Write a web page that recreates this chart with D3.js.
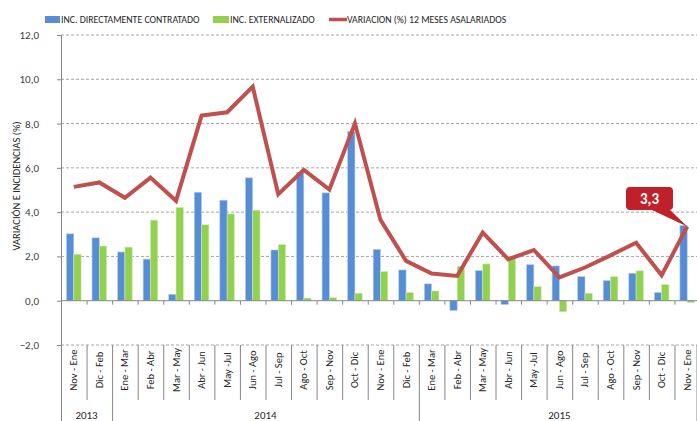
<!DOCTYPE html>
<html><head><meta charset="utf-8">
<script src="https://cdn.jsdelivr.net/npm/d3@7"></script>
<style>body{margin:0;background:#fff;overflow:hidden}</style>
</head><body>
<svg id="c" width="697" height="421"></svg>
<script>
const categories = ["Nov - Ene","Dic - Feb","Ene - Mar","Feb - Abr","Mar - May","Abr - Jun","May -Jul","Jun - Ago","Jul - Sep","Ago - Oct","Sep - Nov","Oct - Dic","Nov - Ene","Dic - Feb","Ene - Mar","Feb - Abr","Mar - May","Abr - Jun","May -Jul","Jun - Ago","Jul - Sep","Ago - Oct","Sep - Nov","Oct - Dic","Nov - Ene"];
const yearLabels = ["2013","2014","2015"];
const yearCounts = [2,12,11];
const directo = [3.02,2.84,2.2,1.88,0.29,4.9,4.54,5.55,2.29,5.8,4.87,7.64,2.32,1.39,0.76,-0.44,1.36,-0.17,1.63,1.57,1.09,0.91,1.24,0.37,3.4];
const externalizado = [2.1,2.47,2.42,3.64,4.21,3.43,3.92,4.09,2.54,0.12,0.14,0.34,1.32,0.37,0.44,1.56,1.66,2.02,0.64,-0.5,0.34,1.09,1.35,0.73,-0.08];
const variacion = [5.14,5.34,4.65,5.56,4.51,8.36,8.51,9.67,4.81,5.91,5.02,8.01,3.65,1.8,1.23,1.12,3.08,1.87,2.29,1.05,1.5,2.05,2.62,1.15,3.35];
const yTicks = [-2,0,2,4,6,8,10,12];
const seriesNames = ["INC. DIRECTAMENTE CONTRATADO","INC. EXTERNALIZADO","VARIACION (%) 12 MESES ASALARIADOS"];
const calloutLabel = "3,3";

const blue = "#558ed5", green = "#92d050", red = "#c0504d";
const font = "Carlito, 'Liberation Sans Narrow', Lato, sans-serif";
const svg = d3.select("#c");
const x = d3.scaleBand().domain(d3.range(categories.length)).range([61,700]);
const y = d3.scaleLinear().domain([-2,12]).range([345,35]);
const bw = x.bandwidth();
const barW = bw*0.286;
const fmt = v => d3.format(".1f")(v).replace(".", ",");

// gridlines
svg.append("g").selectAll("line").data(yTicks.filter(d=>d!==0)).join("line")
  .attr("x1",61).attr("x2",697).attr("y1",d=>y(d)).attr("y2",d=>y(d))
  .attr("stroke","#a6a6a6").attr("stroke-dasharray","3,2").attr("stroke-width",1);

// y axis
const yAxis = d3.axisLeft(y).tickValues(yTicks).tickSize(4).tickFormat(fmt);
const ga = svg.append("g").attr("transform","translate(61,0)").call(yAxis);
ga.select(".domain").remove();
ga.selectAll(".tick line").attr("stroke","#868686");
ga.selectAll("text").attr("font-family",font).attr("font-size",11).attr("fill","#404040").attr("x",-22).attr("text-anchor","end");
svg.append("line").attr("x1",61.5).attr("x2",61.5).attr("y1",35).attr("y2",421).attr("stroke","#868686");

// bars
const gb = svg.append("g");
gb.selectAll("rect.d").data(directo).join("rect").attr("class","d")
  .attr("x",(d,i)=>x(i)+bw/2-barW).attr("width",barW)
  .attr("y",d=>y(Math.max(0,d))).attr("height",d=>Math.abs(y(d)-y(0)))
  .attr("fill",blue).attr("stroke","#b9cdea").attr("stroke-width",0.6);
gb.selectAll("rect.e").data(externalizado).join("rect").attr("class","e")
  .attr("x",(d,i)=>x(i)+bw/2).attr("width",barW)
  .attr("y",d=>y(Math.max(0,d))).attr("height",d=>Math.abs(y(d)-y(0)))
  .attr("fill",green).attr("stroke","#d3ecb5").attr("stroke-width",0.6);

// zero axis
svg.append("line").attr("x1",61).attr("x2",697).attr("y1",y(0)).attr("y2",y(0)).attr("stroke","#868686");
svg.append("g").selectAll("line").data(d3.range(1,categories.length)).join("line")
  .attr("x1",i=>x(i)+0.5).attr("x2",i=>x(i)+0.5).attr("y1",y(0)).attr("y2",y(0)+4).attr("stroke","#868686");

// line
svg.append("path").datum(variacion)
  .attr("d",d3.line().x((d,i)=>x(i)+bw/2).y(d=>y(d)))
  .attr("fill","none").attr("stroke",red).attr("stroke-width",4).attr("stroke-linejoin","miter");

// category labels
const yearStarts = [0]; yearCounts.forEach((c,i)=>yearStarts.push(yearStarts[i]+c));
svg.append("g").selectAll("line").data(d3.range(1,categories.length+1)).join("line")
  .attr("x1",i=>Math.min(x(i-1)+bw,696.5)+0.5).attr("x2",i=>Math.min(x(i-1)+bw,696.5)+0.5)
  .attr("y1",345).attr("y2",i=>yearStarts.includes(i)?421:400).attr("stroke","#868686");
svg.append("g").selectAll("text").data(categories).join("text")
  .attr("transform",(d,i)=>`translate(${x(i)+bw/2+3.5},370) rotate(-90)`)
  .attr("text-anchor","middle").attr("font-family",font).attr("font-size",10.5).attr("fill","#262626")
  .text(d=>d);
svg.append("g").selectAll("text").data(yearLabels).join("text")
  .attr("x",(d,i)=>(x(yearStarts[i]) + Math.min(700, x(yearStarts[i+1]-1)+bw))/2)
  .attr("y",419).attr("text-anchor","middle").attr("font-family",font).attr("font-size",11).attr("fill","#262626")
  .text(d=>d);

// axis title
svg.append("text").attr("transform","translate(20,186) rotate(-90)").attr("text-anchor","middle")
  .attr("font-family",font).attr("font-size",10.5).attr("fill","#262626").text("VARIACIÓN E INCIDENCIAS (%)");

// legend
const lg = svg.append("g");
lg.append("rect").attr("x",45).attr("y",16).attr("width",15).attr("height",7).attr("fill",blue);
lg.append("text").attr("x",61).attr("y",23).text(seriesNames[0]);
lg.append("rect").attr("x",213).attr("y",16).attr("width",16).attr("height",7).attr("fill",green);
lg.append("text").attr("x",230).attr("y",23).text(seriesNames[1]);
lg.append("line").attr("x1",329).attr("x2",347).attr("y1",19.5).attr("y2",19.5).attr("stroke",red).attr("stroke-width",3.5);
lg.append("text").attr("x",347).attr("y",23).text(seriesNames[2]);
lg.selectAll("text").attr("font-family",font).attr("font-size",9.8).attr("fill","#262626");

// callout
const li = variacion.length-1;
const px = x(li)+bw/2, py = y(variacion[li]);
const cx0=626, cx1=673, cy0=187, cy1=210, r=4;
const p = d3.path();
p.moveTo(cx0+r,cy0); p.lineTo(cx1-r,cy0); p.quadraticCurveTo(cx1,cy0,cx1,cy0+r);
p.lineTo(cx1,cy1-r); p.quadraticCurveTo(cx1,cy1,cx1-r,cy1);
p.lineTo(670,cy1); p.lineTo(px,py); p.lineTo(652,cy1);
p.lineTo(cx0+r,cy1); p.quadraticCurveTo(cx0,cy1,cx0,cy1-r); p.lineTo(cx0,cy0+r); p.quadraticCurveTo(cx0,cy0,cx0+r,cy0); p.closePath();
svg.append("path").attr("d",p.toString()).attr("fill","#c0202a");
svg.append("text").attr("x",(cx0+cx1)/2).attr("y",204).attr("text-anchor","middle")
  .attr("font-family",font).attr("font-weight","bold").attr("font-size",15).attr("fill","#fff").text(calloutLabel);
</script>
</body></html>
